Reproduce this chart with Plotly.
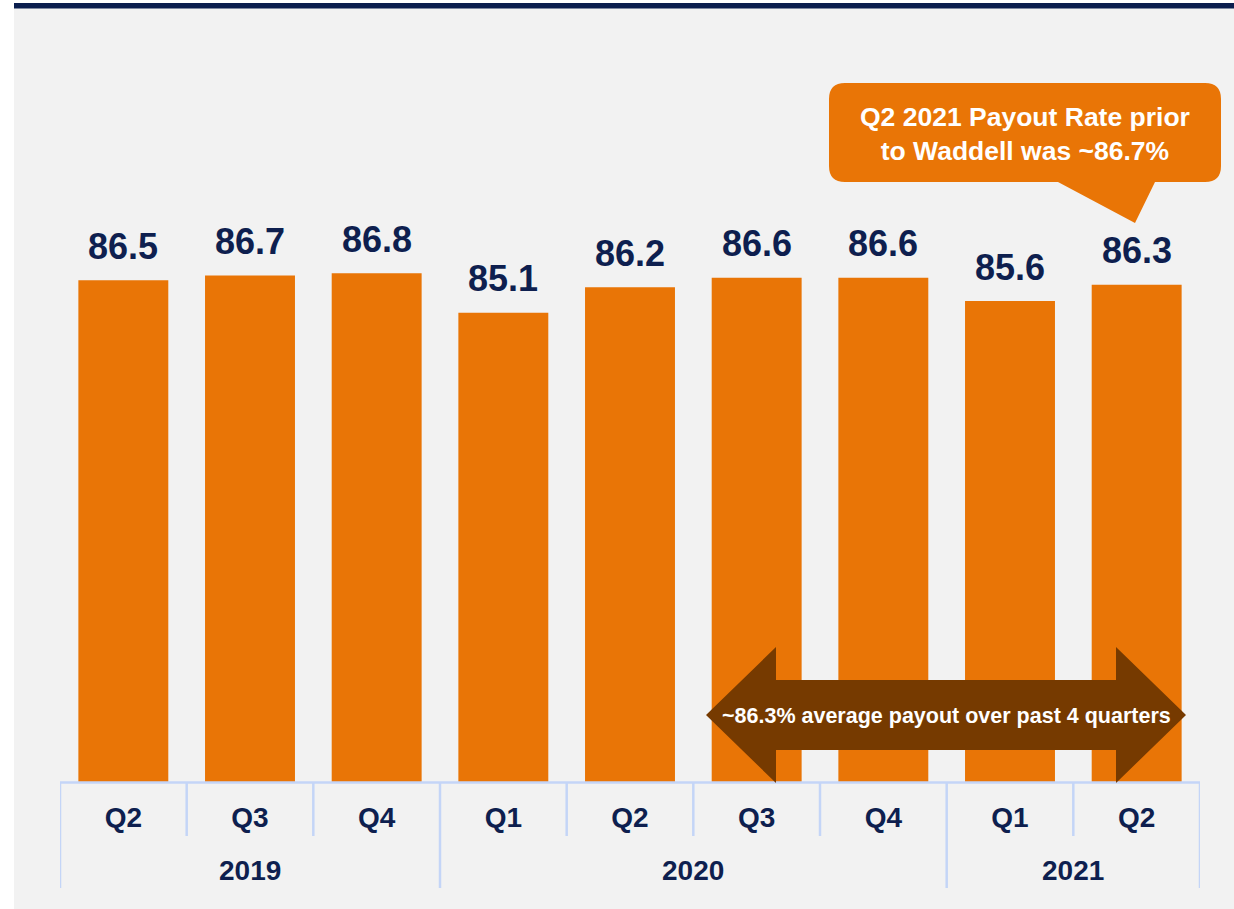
import plotly.graph_objects as go

# ---- data ----
quarters = ["Q2", "Q3", "Q4", "Q1", "Q2", "Q3", "Q4", "Q1", "Q2"]
years = ["2019", "2019", "2019", "2020", "2020", "2020", "2020", "2021", "2021"]
payout = [86.5, 86.7, 86.8, 85.1, 86.2, 86.6, 86.6, 85.6, 86.3]
callout_text = "Q2 2021 Payout Rate prior<br>to Waddell was ~86.7%"
arrow_text = "~86.3% average payout over past 4 quarters"

# ---- style ----
W, H = 1234, 909
L, R, T, B = 60, 1200, 60, 782  # plot area in page pixels
ORANGE = "#E97506"
NAVY = "#0E1F4F"
BROWN = "#763A00"
GRID = "#C4D5F7"
BG = "#F2F2F2"
FONT = "Arial, Liberation Sans, sans-serif"


def px(xp):
    return (xp - L) / (R - L)


def py(yp):
    return (B - yp) / (B - T)


x_idx = list(range(len(quarters)))

fig = go.Figure()
fig.add_trace(go.Bar(
    x=x_idx, y=payout, marker=dict(color=ORANGE, line=dict(width=0)),
    width=0.71, hoverinfo="skip",
))

shapes = []
# page background & top rule
shapes.append(dict(type="rect", xref="paper", yref="paper", layer="below",
                   x0=px(14), x1=px(1240), y0=py(915), y1=py(8),
                   fillcolor=BG, line=dict(width=0)))
shapes.append(dict(type="rect", xref="paper", yref="paper", layer="below",
                   x0=px(14), x1=px(1240), y0=py(8.5), y1=py(3),
                   fillcolor="#0B1E4E", line=dict(width=0)))

# category dividers
n = len(quarters)
for i in range(n + 1):
    xb = i - 0.5
    is_year = i == 0 or i == n or years[i] != years[i - 1]
    shapes.append(dict(type="line", xref="x", yref="paper", layer="above",
                       x0=xb, x1=xb, y0=0, y1=py(888 if is_year else 836),
                       line=dict(color=GRID, width=2.5)))
shapes.append(dict(type="line", xref="x", yref="paper", layer="above",
                   x0=-0.5, x1=n - 0.5, y0=py(782.5), y1=py(782.5),
                   line=dict(color=GRID, width=2.5)))


def rpath(pts):
    s = ""
    for cmd, *c in pts:
        if cmd == "Q":
            s += f"Q{px(c[0])},{py(c[1])} {px(c[2])},{py(c[3])} "
        elif cmd == "Z":
            s += "Z"
        else:
            s += f"{cmd}{px(c[0])},{py(c[1])} "
    return s


# callout box (rounded rect + tail)
bx0, bx1, by0, by1, r = 829, 1221, 83, 182, 16
callout = rpath([
    ("M", bx0 + r, by0), ("L", bx1 - r, by0), ("Q", bx1, by0, bx1, by0 + r),
    ("L", bx1, by1 - r), ("Q", bx1, by1, bx1 - r, by1),
    ("L", 1155, by1), ("L", 1135, 223), ("L", 1058, by1),
    ("L", bx0 + r, by1), ("Q", bx0, by1, bx0, by1 - r),
    ("L", bx0, by0 + r), ("Q", bx0, by0, bx0 + r, by0), ("Z",),
])
shapes.append(dict(type="path", xref="paper", yref="paper", path=callout,
                   fillcolor=ORANGE, line=dict(width=0)))

# double arrow
arrow = rpath([
    ("M", 706, 715), ("L", 776, 647), ("L", 776, 680), ("L", 1116, 680),
    ("L", 1116, 647), ("L", 1186, 715), ("L", 1116, 783), ("L", 1116, 750),
    ("L", 776, 750), ("L", 776, 783), ("Z",),
])
shapes.append(dict(type="path", xref="paper", yref="paper", path=arrow,
                   fillcolor=BROWN, line=dict(width=0)))

annotations = []
# value labels
for i, v in enumerate(payout):
    annotations.append(dict(x=i, y=v, xref="x", yref="y", text=f"{v:.1f}",
                            showarrow=False, xanchor="center", yanchor="middle", yshift=34,
                            font=dict(family=FONT, size=36, color=NAVY, weight="bold")))
# year labels
groups = []
for i, yv in enumerate(years):
    if not groups or groups[-1][0] != yv:
        groups.append([yv, i, i])
    else:
        groups[-1][2] = i
for yv, a, b in groups:
    annotations.append(dict(x=(a + b) / 2, y=py(870), xref="x", yref="paper",
                            text=yv, showarrow=False, xanchor="center", yanchor="middle",
                            font=dict(family=FONT, size=28, color=NAVY, weight="bold")))
# callout & arrow texts
annotations.append(dict(x=px(1025), y=py(134), xref="paper", yref="paper",
                        text=callout_text, showarrow=False, xanchor="center", yanchor="middle",
                        font=dict(family=FONT, size=26.5, color="white", weight="bold")))
annotations.append(dict(x=px(946), y=py(716), xref="paper", yref="paper",
                        text=arrow_text, showarrow=False, xanchor="center", yanchor="middle",
                        font=dict(family=FONT, size=21.5, color="white", weight="bold")))

fig.update_layout(
    width=W, height=H,
    margin=dict(l=L, r=W - R, t=T, b=H - B, pad=0),
    paper_bgcolor="white", plot_bgcolor="rgba(0,0,0,0)",
    showlegend=False, bargap=0.29, hovermode=False,
    shapes=shapes, annotations=annotations,
    xaxis=dict(range=[-0.5, n - 0.5], tickmode="array", tickvals=x_idx,
               ticktext=quarters, showgrid=False, zeroline=False, showline=False,
               ticks="", ticklabelstandoff=16, fixedrange=True,
               tickfont=dict(family=FONT, size=28, color=NAVY, weight="bold")),
    yaxis=dict(range=[64.87, 95.99], visible=False, showgrid=False, fixedrange=True),
)

fig.write_html("out.html", config={"displayModeBar": False},
               post_script="document.body.style.margin='0';document.body.style.overflow='hidden';")
